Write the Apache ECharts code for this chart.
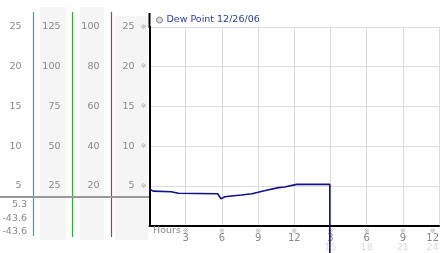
<!DOCTYPE html>
<html>
<head>
<meta charset="utf-8">
<script src="https://cdn.jsdelivr.net/npm/echarts@6/dist/echarts.min.js"></script>
<style>
html,body{margin:0;padding:0;background:#fff;}
#c{width:442px;height:253px;}
</style>
</head>
<body>
<div id="c"></div>
<script>
// ---- data ----
const seriesName = 'Dew Point 12/26/06';
const hours    = [0, 0.3, 1.8, 2.4, 5.65, 5.92, 6.25, 6.8, 7.6, 8.5, 9.0, 9.7, 9.85, 10.7, 11.2, 12.2, 14.95, 14.95];
const dewPoint = [4.6, 4.35, 4.28, 4.08, 4.02, 3.4, 3.65, 3.74, 3.87, 4.03, 4.2, 4.46, 4.62, 4.79, 4.87, 5.2, 5.2, -43.6];
const hourTopLabels    = ['', '3', '6', '9', '12', '3', '6', '9', '12'];
const hourBottomLabels = ['', '', '', '', '', '15', '18', '21', '24'];
const mainTicks   = [5, 10, 15, 20, 25];
const col1Ticks   = [5, 10, 15, 20, 25];
const col2Ticks   = [25, 50, 75, 100, 125];
const col3Ticks   = [20, 40, 60, 80, 100];
const readings    = ['5.3', '-43.6', '-43.6'];
const xAxisTitle  = 'Hours';

const FONT = 'DejaVu Sans';
const chart = echarts.init(document.getElementById('c'), null, {renderer: 'canvas'});

function sideAxis(ticks, offset) {
  return {
    type: 'value', position: 'left', gridIndex: 0, offset: offset,
    min: 0, max: ticks[ticks.length - 1], interval: ticks[0],
    axisLine: {show: false}, axisTick: {show: false}, splitLine: {show: false},
    axisLabel: {
      margin: 12, fontFamily: FONT, fontSize: 9.5, color: '#888',
      formatter: v => ticks.indexOf(v) >= 0 ? String(v) : ''
    }
  };
}

const graphics = [
  {type: 'rect', shape: {x: 40, y: 7, width: 26, height: 233}, style: {fill: '#f5f5f5'}, z: -10},
  {type: 'rect', shape: {x: 80, y: 7, width: 24, height: 233}, style: {fill: '#f5f5f5'}, z: -10},
  {type: 'rect', shape: {x: 115, y: 16, width: 33, height: 224}, style: {fill: '#f5f5f5'}, z: -10},
  {type: 'line', shape: {x1: 33.5, y1: 12, x2: 33.5, y2: 236}, style: {stroke: '#1fa6d6', lineWidth: 1.2}, z: 5},
  {type: 'line', shape: {x1: 72.5, y1: 12, x2: 72.5, y2: 237}, style: {stroke: '#2fae2f', lineWidth: 1.2}, z: 5},
  {type: 'line', shape: {x1: 111.5, y1: 12, x2: 111.5, y2: 237}, style: {stroke: '#c03434', lineWidth: 1.2}, z: 5},
  {type: 'line', shape: {x1: 149.5, y1: 13, x2: 149.5, y2: 28}, style: {stroke: '#000', lineWidth: 2}, z: 5},
  {type: 'line', shape: {x1: 0, y1: 197, x2: 149, y2: 197}, style: {stroke: '#999', lineWidth: 2}, z: 6},
  {type: 'text', x: 153, y: 231, style: {text: xAxisTitle, fontFamily: FONT, fontSize: 9.5, fill: '#888', textVerticalAlign: 'middle'}, z: 6}
];
const readY = [204.5, 218.5, 232];
readings.forEach((r, i) => {
  graphics.push({type: 'text', x: 27, y: readY[i],
    style: {text: r, fontFamily: FONT, fontSize: 9.5, fill: '#888', textAlign: 'right', textVerticalAlign: 'middle'}, z: 6});
});

chart.setOption({
  animation: false,
  backgroundColor: '#fff',
  grid: {left: 149.5, right: 2.5, top: 26.9, bottom: 27.25, containLabel: false},
  legend: {
    left: 156, top: 15, padding: 0, itemWidth: 6, itemHeight: 6, itemGap: 4,
    icon: 'circle',
    textStyle: {fontFamily: FONT, fontSize: 9.5, color: '#2a3aa8', padding: [0, 0, 0, -1]},
    data: [{name: seriesName, itemStyle: {color: '#ddd', borderColor: '#888', borderWidth: 1}}]
  },
  xAxis: {
    type: 'value', min: 0, max: 24, interval: 3,
    axisLine: {show: true, lineStyle: {color: '#000', width: 2}},
    axisTick: {show: false},
    splitLine: {show: true, showMinLine: false, showMaxLine: true, lineStyle: {color: '#dcdcdc', width: 1}},
    axisLabel: {
      margin: 2, showMinLabel: false, alignMaxLabel: 'right',
      formatter: v => {
        const i = Math.round(v / 3);
        if (!hourTopLabels[i]) return '';
        return '{m|※}\n{n|' + hourTopLabels[i] + '}\n{f|' + (hourBottomLabels[i] || ' ') + '}';
      },
      rich: {
        m: {fontFamily: FONT, fontSize: 7, lineHeight: 6, color: '#aaa', align: 'center'},
        n: {fontFamily: FONT, fontSize: 10, lineHeight: 9, color: '#888', align: 'center'},
        f: {fontFamily: FONT, fontSize: 9.5, lineHeight: 9, color: '#dadada', align: 'center'}
      }
    }
  },
  yAxis: [
    {
      type: 'value', position: 'left', min: 0, max: 25, interval: 5,
      axisLine: {show: true, lineStyle: {color: '#000', width: 2}},
      axisTick: {show: false},
      splitLine: {show: true, showMinLine: false, showMaxLine: true, lineStyle: {color: '#dcdcdc', width: 1}},
      axisLabel: {
        margin: 3, showMinLabel: false,
        formatter: v => mainTicks.indexOf(v) >= 0 ? '{n|' + v + '}{s|}{m|※}' : '',
        rich: {
          n: {fontFamily: FONT, fontSize: 9.5, color: '#888'},
          s: {width: 6},
          m: {fontFamily: FONT, fontSize: 7, color: '#aaa'}
        }
      }
    },
    sideAxis(col3Ticks, 38),
    sideAxis(col2Ticks, 77),
    sideAxis(col1Ticks, 116)
  ],
  graphic: graphics,
  series: [{
    name: seriesName, type: 'line', xAxisIndex: 0, yAxisIndex: 0,
    data: hours.map((h, i) => [h, dewPoint[i]]),
    showSymbol: false, clip: false,
    itemStyle: {color: '#ddd', borderColor: '#888'},
    lineStyle: {color: '#12128a', width: 1.6},
    z: 3
  }]
});
</script>
</body>
</html>
